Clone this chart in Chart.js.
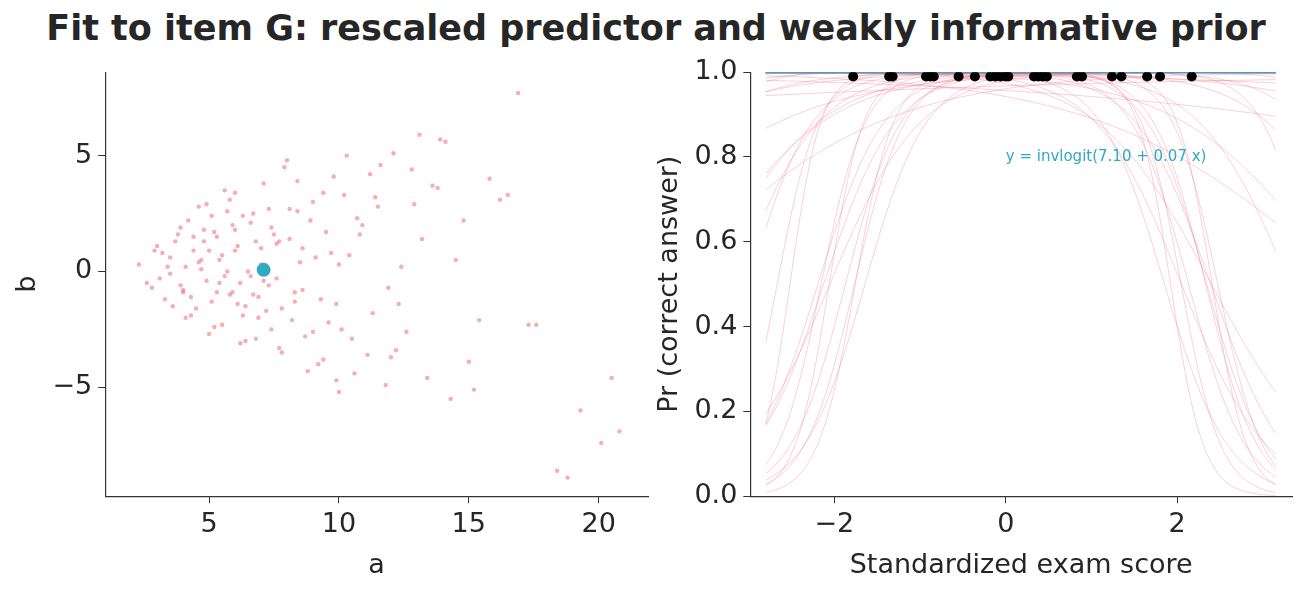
<!DOCTYPE html>
<html>
<head>
<meta charset="utf-8">
<script src="https://cdn.jsdelivr.net/npm/chart.js@4"></script>
<style>
  body { margin: 0; width: 1312px; height: 592px; background: #fff; font-family: "DejaVu Sans", sans-serif; overflow: hidden; }
  h1 { margin: 0; position: absolute; top: 8px; width: 1312px; text-align: center; font-size: 35px; font-weight: bold; color: #262626; }
  .box { position: absolute; top: 50px; height: 542px; }
  #left { left: 0; width: 660px; }
  #right { left: 652px; width: 660px; }
</style>
</head>
<body>
<h1>Fit to item G: rescaled predictor and weakly informative prior</h1>
<div class="box" id="left"><canvas id="scatter"></canvas></div>
<div class="box" id="right"><canvas id="curves"></canvas></div>
<script>
// posterior draws (a, b)
const drawsA = [5.1, 4.3, 6.8, 3.2, 7.5, 9.4, 5.8, 4.9, 11.2, 6.3, 8.1, 3.9, 12.6, 7.0, 5.5, 10.3, 4.6, 13.8, 6.1, 8.8,
  2.8, 9.9, 5.3, 7.7, 15.4, 4.1, 6.6, 11.8, 3.6, 8.4, 5.9, 10.7, 4.4, 7.2, 14.1, 6.0, 9.1, 3.4, 12.2, 5.0,
  16.5, 7.9, 4.8, 10.0, 6.4, 8.6, 3.1, 13.2, 5.7, 9.6,
  2.3, 2.6, 3.0, 3.3, 3.5, 3.8, 4.0, 4.2, 4.5, 4.7, 4.9, 5.2, 5.4, 5.6, 5.8, 6.0, 6.2, 6.5, 6.7, 6.9,
  7.1, 7.3, 7.6, 7.8, 8.0, 8.3, 8.5, 8.7, 9.0, 9.2, 9.5, 9.8, 10.1, 10.4, 10.6, 10.9, 11.3, 11.6, 12.0, 12.4,
  12.9, 13.4, 13.9, 14.5, 15.0, 15.8, 16.9, 17.6, 18.4, 18.8, 19.3, 20.1, 20.5, 20.8, 3.7, 4.3, 5.0, 5.6, 6.3, 6.9,
  7.4, 8.2, 8.9, 9.7, 10.5, 11.4, 12.3, 13.1, 14.3, 3.9, 4.6, 5.3, 6.1, 6.8, 7.6, 8.4, 9.3, 10.2, 11.1, 12.8,
  4.1, 4.8, 5.5, 6.2, 7.0, 7.8, 8.6, 9.4, 10.8, 11.9, 2.9, 3.5, 4.4, 5.1, 5.9, 6.6, 7.4, 8.1, 9.0, 10.0,
  5.4, 6.0, 6.7, 7.3, 4.0, 4.7, 5.2, 5.7, 6.4, 7.1, 7.7, 8.3, 9.9, 11.5, 13.6, 15.2, 16.2, 17.3, 14.8, 12.1];
const drawsB = [2.4, -1.1, -2.9, 0.8, 1.6, -3.8, 3.1, -0.4, 4.2, -1.9, 2.7, 1.9, -2.6, 0.3, -2.3, 5.0, 2.8, 3.6, 1.1, -4.3,
  -0.7, -1.4, 1.5, -3.3, -2.1, -2.0, 2.1, -4.9, -1.5, 3.9, -0.9, 2.3, 0.9, -1.7, 5.6, 3.4, 0.6, 0.2, -3.4, -2.7,
  3.3, 4.5, 1.3, -5.2, -3.0, 1.0, -0.3, 1.4, 2.6, -2.2,
  0.3, -0.5, 1.1, -1.2, 0.6, 1.6, -0.8, 2.2, -1.6, 0.1, 2.9, -2.4, 0.5, 3.5, -1.0, 1.8, -3.1, 0.0, 2.5, -2.0,
  3.8, -0.6, 1.2, -3.5, 4.8, -1.3, 0.4, -2.8, 3.0, -4.0, 1.7, 4.1, -2.5, 0.7, -4.4, 2.0, -1.8, 4.6, -3.7, 0.2,
  2.9, -4.6, 5.7, 0.5, -3.9, 4.0, 7.7, -2.3, -8.6, -8.9, -6.0, -7.4, -4.6, -6.9, 1.3, -1.9, 0.9, -0.2, 2.4, -1.1,
  1.9, -2.1, 2.2, 0.8, -2.9, 3.2, -1.4, 5.9, -5.5, -0.6, 0.4, -0.9, -1.4, 1.3, -0.3, 2.6, -1.2, 3.3, -3.6, 4.4,
  0.2, 1.8, 0.7, -0.5, 1.0, -1.6, -0.8, 3.4, 1.6, -0.7, 0.9, -0.1, 1.5, -1.3, 2.0, -0.2, -2.5, 1.4, -2.6, 0.3,
  -0.5, 0.9, -1.0, 2.7, -0.9, 0.5, 1.7, 0.0, -1.5, -0.4, 1.3, -0.9, -4.7, 2.8, 3.7, -5.1, 3.1, -2.3, 2.2, 5.1];
const fitA = 7.10, fitB = 0.07;
const meanA = 7.10, meanB = 0.07;
// observed exam scores (all answered correctly)
const examX = [-1.78, -1.36, -1.32, -0.93, -0.88, -0.84, -0.55, -0.36, -0.18, -0.12, -0.06, 0.0, 0.03,
  0.33, 0.38, 0.43, 0.48, 0.83, 0.89, 1.24, 1.35, 1.65, 1.8, 2.17];
const examY = examX.map(() => 0.99);
const nCurves = 50;

const invlogit = z => 1 / (1 + Math.exp(-z));
const xGrid = [];
for (let x = -2.8; x <= 3.15001; x += 0.05) xGrid.push(x);

const tickFont = { family: "DejaVu Sans", size: 27 };
const axisCommon = {
  grid: { drawOnChartArea: false, drawTicks: true, tickLength: 7, color: "#333" },
  border: { display: true, color: "#333", width: 1.2 },
  ticks: { color: "#262626", font: tickFont, padding: 6 },
};
function title(t) {
  return { display: true, text: t, color: "#262626", font: { family: "DejaVu Sans", size: 27 }, padding: 2 };
}

new Chart(document.getElementById("scatter"), {
  type: "scatter",
  data: {
    datasets: [
      {
        data: [{ x: meanA, y: meanB }],
        backgroundColor: "#2fa9c5", pointRadius: 7, borderWidth: 0,
      },
      {
        data: drawsA.map((a, i) => ({ x: a, y: drawsB[i] })),
        backgroundColor: "rgba(240,90,110,0.5)",
        pointRadius: 2.2, borderWidth: 0,
      },
    ],
  },
  options: {
    responsive: true, maintainAspectRatio: false, animation: false,
    layout: { padding: { left: 10, right: 12, top: 22, bottom: 8 } },
    plugins: { legend: { display: false }, tooltip: false },
    scales: {
      x: { ...axisCommon, min: 1, max: 21.9, afterBuildTicks: ax => { ax.ticks = [5, 10, 15, 20].map(v => ({ value: v })); }, title: title("a") },
      y: { ...axisCommon, min: -9.7, max: 8.6, afterBuildTicks: ax => { ax.ticks = [-5, 0, 5].map(v => ({ value: v })); },
        ticks: { ...axisCommon.ticks, callback: v => (v < 0 ? "\u2212" + Math.abs(v) : v) }, title: title("b") },
    },
  },
});

const curveSets = drawsA.slice(0, nCurves).map((a, i) => ({
  type: "line",
  data: xGrid.map(x => ({ x: x, y: invlogit(a + drawsB[i] * x) })),
  borderColor: "rgba(240,100,130,0.3)", borderWidth: 1, pointRadius: 0,
}));

const labelPlugin = {
  id: "fitLabel",
  afterDatasetsDraw(chart) {
    const { ctx, scales } = chart;
    ctx.save();
    ctx.fillStyle = "#2fa9c5";
    ctx.font = "15px 'DejaVu Sans'";
    ctx.textBaseline = "middle";
    ctx.fillText(`y = invlogit(${fitA.toFixed(2)} + ${fitB.toFixed(2)} x)`, scales.x.getPixelForValue(0), scales.y.getPixelForValue(0.8));
    ctx.restore();
  },
};

new Chart(document.getElementById("curves"), {
  type: "scatter",
  data: {
    datasets: [
      {
        data: examX.map((x, i) => ({ x: x, y: examY[i] })),
        backgroundColor: "#000", pointRadius: 5, borderWidth: 0,
      },
      {
        type: "line",
        data: xGrid.map(x => ({ x: x, y: invlogit(fitA + fitB * x) })),
        borderColor: "#2fa9c5", borderWidth: 2, pointRadius: 0,
      },
      ...curveSets,
    ],
  },
  options: {
    responsive: true, maintainAspectRatio: false, animation: false,
    layout: { padding: { left: 0, right: 20, top: 12, bottom: 8 } },
    plugins: { legend: { display: false }, tooltip: false },
    scales: {
      x: { ...axisCommon, type: "linear", min: -2.98, max: 3.34,
        afterBuildTicks: ax => { ax.ticks = [-2, 0, 2].map(v => ({ value: v })); },
        ticks: { ...axisCommon.ticks, callback: v => (v < 0 ? "\u2212" + Math.abs(v) : v) },
        title: title("Standardized exam score") },
      y: { ...axisCommon, min: 0, max: 1,
        ticks: { ...axisCommon.ticks, stepSize: 0.2, callback: v => v.toFixed(1) },
        title: title("Pr (correct answer)") },
    },
  },
  plugins: [labelPlugin],
});
</script>
</body>
</html>
